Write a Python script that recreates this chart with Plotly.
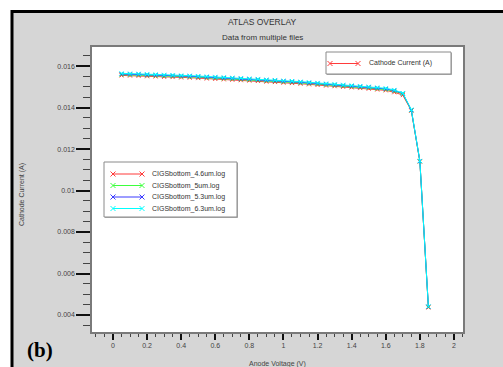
import plotly.graph_objects as go

# ---------------- data ----------------
voltage = [0.05, 0.10, 0.15, 0.20, 0.25, 0.30, 0.35, 0.40, 0.45, 0.50,
           0.55, 0.60, 0.65, 0.70, 0.75, 0.80, 0.85, 0.90, 0.95, 1.00,
           1.05, 1.10, 1.15, 1.20, 1.25, 1.30, 1.35, 1.40, 1.45, 1.50,
           1.55, 1.60, 1.65, 1.70, 1.75, 1.80, 1.85]

cur_4p6 = [0.01555, 0.01554, 0.01553, 0.01551, 0.01550, 0.01548, 0.01547, 0.01545, 0.01544, 0.01542,
           0.01540, 0.01538, 0.01536, 0.01534, 0.01532, 0.01530, 0.01528, 0.01525, 0.01523, 0.01520,
           0.01518, 0.01515, 0.01512, 0.01509, 0.01506, 0.01503, 0.01500, 0.01497, 0.01494, 0.01491,
           0.01487, 0.01483, 0.01474, 0.01460, 0.01385, 0.01140, 0.00436]
cur_5 = [0.01559, 0.01558, 0.01557, 0.01555, 0.01554, 0.01552, 0.01551, 0.01549, 0.01548, 0.01546,
         0.01544, 0.01542, 0.01540, 0.01538, 0.01536, 0.01534, 0.01532, 0.01529, 0.01527, 0.01524,
         0.01522, 0.01519, 0.01516, 0.01513, 0.01510, 0.01507, 0.01504, 0.01501, 0.01498, 0.01495,
         0.01491, 0.01487, 0.01479, 0.01466, 0.01387, 0.01141, 0.00439]
cur_5p3 = [0.01562, 0.01561, 0.01560, 0.01558, 0.01557, 0.01555, 0.01554, 0.01552, 0.01551, 0.01549,
           0.01547, 0.01545, 0.01543, 0.01541, 0.01539, 0.01537, 0.01535, 0.01532, 0.01530, 0.01527,
           0.01525, 0.01522, 0.01519, 0.01516, 0.01513, 0.01510, 0.01507, 0.01504, 0.01501, 0.01498,
           0.01494, 0.01490, 0.01482, 0.01468, 0.01388, 0.01142, 0.00440]
cur_6p3 = [0.01565, 0.01564, 0.01563, 0.01561, 0.01560, 0.01558, 0.01557, 0.01555, 0.01554, 0.01552,
           0.01550, 0.01548, 0.01546, 0.01544, 0.01542, 0.01540, 0.01538, 0.01535, 0.01533, 0.01530,
           0.01528, 0.01525, 0.01522, 0.01519, 0.01516, 0.01513, 0.01510, 0.01507, 0.01504, 0.01501,
           0.01497, 0.01493, 0.01485, 0.01470, 0.01390, 0.01143, 0.00441]

series_names = ["CIGSbottom_4.6um.log", "CIGSbottom_5um.log",
                "CIGSbottom_5.3um.log", "CIGSbottom_6.3um.log"]
series_values = [cur_4p6, cur_5, cur_5p3, cur_6p3]
series_colors = ["#ff3b3b", "#3dff3d", "#3b3bff", "#00ffff"]

x_tick_step = 0.2
y_tick_step = 0.002

# ---------------- layout geometry ----------------
W, H = 503, 367
ML, MR, MT, MB = 92, 40, 47, 35
PW, PH = W - ML - MR, H - MT - MB


def fx(px):
    return (px - ML) / PW


def fy(py):
    return (H - MB - py) / PH


FONT = "Liberation Sans, Arial, sans-serif"
fig = go.Figure()

for name, vals, col in zip(series_names, series_values, series_colors):
    fig.add_trace(go.Scatter(
        x=voltage, y=vals, name=name, mode="lines+markers",
        line=dict(color=col, width=1),
        marker=dict(symbol="x-thin", size=4, line=dict(color=col, width=1)),
        showlegend=False,
    ))

shapes = []
annotations = []

# outer frame: white margin strip + thick black border
shapes.append(dict(type="rect", xref="paper", yref="paper", x0=fx(-5), x1=fx(W + 10),
                   y0=fy(10.5), y1=fy(-10), fillcolor="white", line=dict(width=0), layer="above"))
shapes.append(dict(type="rect", xref="paper", yref="paper", x0=fx(-5), x1=fx(11),
                   y0=fy(H + 10), y1=fy(-10), fillcolor="white", line=dict(width=0), layer="above"))
shapes.append(dict(type="line", xref="paper", yref="paper", x0=fx(11), x1=fx(W + 10),
                   y0=fy(11.5), y1=fy(11.5), line=dict(color="black", width=3), layer="above"))
shapes.append(dict(type="line", xref="paper", yref="paper", x0=fx(12), x1=fx(12),
                   y0=fy(10), y1=fy(H + 10), line=dict(color="black", width=3), layer="above"))


def legend_box(x0, y0, x1, y1):
    shapes.append(dict(type="rect", xref="paper", yref="paper", x0=fx(x0 + 1), x1=fx(x1 + 1),
                       y0=fy(y1 + 1), y1=fy(y0 + 1), fillcolor="#b0b0b0",
                       line=dict(width=0), layer="above"))
    shapes.append(dict(type="rect", xref="paper", yref="paper", x0=fx(x0), x1=fx(x1),
                       y0=fy(y1), y1=fy(y0), fillcolor="white",
                       line=dict(color="#8a8a8a", width=1), layer="above"))


def legend_entry(xa, xb, y, color, text, xt, r=2.5):
    shapes.append(dict(type="line", xref="paper", yref="paper", x0=fx(xa), x1=fx(xb),
                       y0=fy(y), y1=fy(y), line=dict(color=color, width=1), layer="above"))
    for xc in (xa, xb):
        shapes.append(dict(type="line", xref="paper", yref="paper", x0=fx(xc - r), x1=fx(xc + r),
                           y0=fy(y - r), y1=fy(y + r), line=dict(color=color, width=1), layer="above"))
        shapes.append(dict(type="line", xref="paper", yref="paper", x0=fx(xc - r), x1=fx(xc + r),
                           y0=fy(y + r), y1=fy(y - r), line=dict(color=color, width=1), layer="above"))
    annotations.append(dict(text=text, xref="paper", yref="paper", x=fx(xt), y=fy(y),
                            xanchor="left", yanchor="middle", showarrow=False,
                            font=dict(family=FONT, size=7, color="#333")))


legend_box(326, 52, 451, 74)
legend_entry(330, 358, 63.5, "#ff3b3b", "Cathode Current (A)", 367)

legend_box(104, 162, 237, 217)
for i, (name, col) in enumerate(zip(series_names, series_colors)):
    legend_entry(113, 142, 174 + i * 11.5, col, name, 150)

# titles
annotations.append(dict(text="ATLAS OVERLAY", xref="paper", yref="paper", x=fx(262), y=fy(22.5),
                        xanchor="center", yanchor="middle", showarrow=False,
                        font=dict(family=FONT, size=8.5, color="#333")))
annotations.append(dict(text="Data from multiple files", xref="paper", yref="paper", x=fx(262), y=fy(38),
                        xanchor="center", yanchor="middle", showarrow=False,
                        font=dict(family=FONT, size=8, color="#333")))
# axis titles
annotations.append(dict(text="Cathode Current (A)", xref="paper", yref="paper", x=fx(22), y=fy(195),
                        xanchor="center", yanchor="middle", textangle=-90, showarrow=False,
                        font=dict(family=FONT, size=7, color="#444")))
annotations.append(dict(text="Anode Voltage (V)", xref="paper", yref="paper", x=fx(277), y=fy(364),
                        xanchor="center", yanchor="middle", showarrow=False,
                        font=dict(family=FONT, size=7, color="#444")))
# panel label
annotations.append(dict(text="<b>(b)</b>", xref="paper", yref="paper", x=fx(40), y=fy(350),
                        xanchor="center", yanchor="middle", showarrow=False,
                        font=dict(family="Liberation Serif, Times New Roman, serif", size=21, color="black")))

fig.update_layout(
    width=W, height=H,
    margin=dict(l=ML, r=MR, t=MT, b=MB, pad=0),
    paper_bgcolor="#d6d6d6", plot_bgcolor="white",
    showlegend=False,
    shapes=shapes, annotations=annotations,
    font=dict(family=FONT, size=7, color="#444"),
)
fig.update_xaxes(
    range=[-0.123, 2.053], dtick=x_tick_step, tick0=0,
    showgrid=False, zeroline=False,
    showline=True, mirror=True, linecolor="#7a7a7a", linewidth=1.5,
    ticks="outside", ticklen=6, tickwidth=1.5, tickcolor="#111",
    minor=dict(dtick=0.05, ticks="outside", ticklen=3, tickwidth=1, tickcolor="#444", showgrid=False),
    tickfont=dict(family=FONT, size=7, color="#444"),
)
fig.update_yaxes(
    range=[0.00318, 0.01692], dtick=y_tick_step, tick0=0,
    showgrid=False, zeroline=False,
    showline=True, mirror=True, linecolor="#7a7a7a", linewidth=1.5,
    ticks="outside", ticklen=14, tickwidth=2, tickcolor="#111",
    minor=dict(dtick=0.0005, ticks="outside", ticklen=7, tickwidth=1, tickcolor="#444", showgrid=False),
    tickfont=dict(family=FONT, size=7, color="#444"),
)

fig.write_html(
    "out.html",
    config={"displayModeBar": False},
    post_script="document.body.style.margin='0';document.body.style.overflow='hidden';",
)
